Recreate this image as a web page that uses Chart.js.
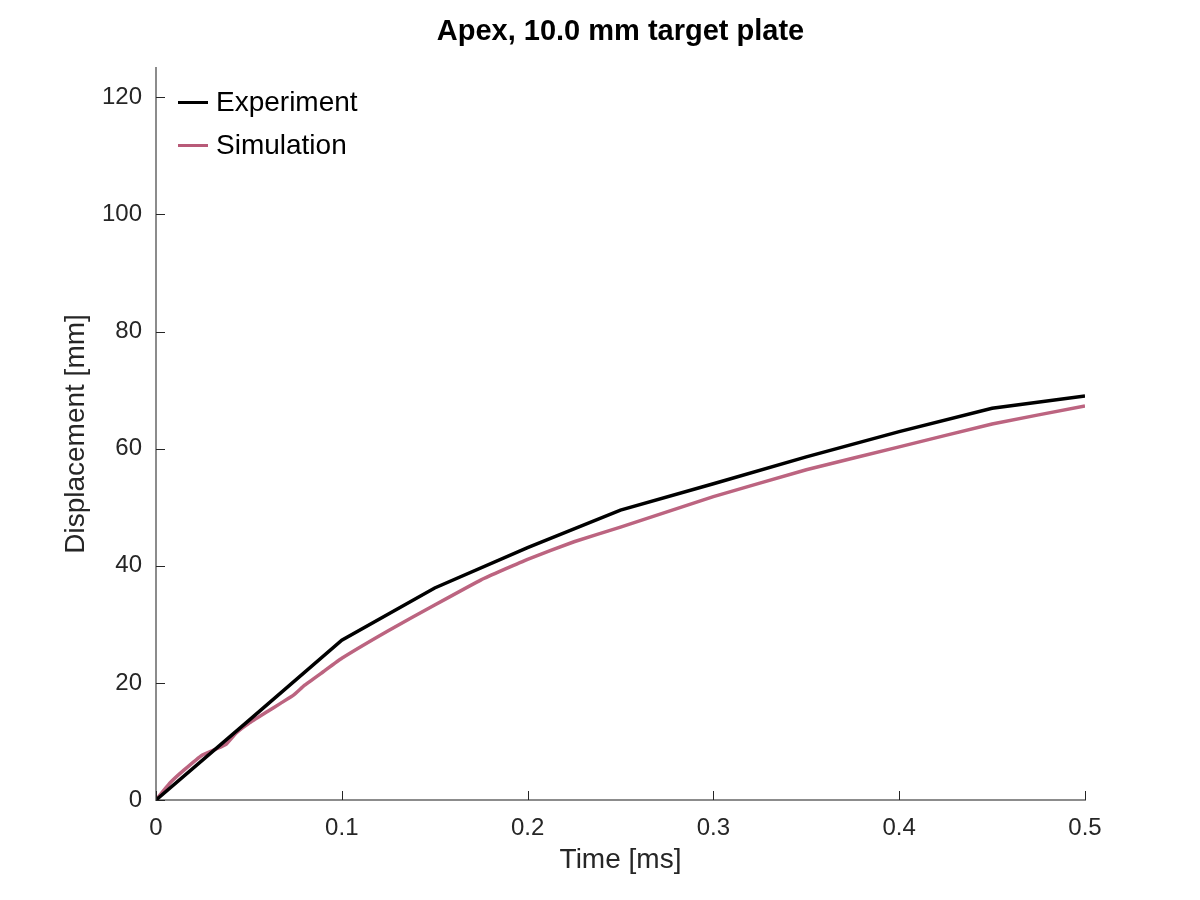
<!DOCTYPE html>
<html lang="en">
<head>
  <meta charset="UTF-8">
  <title>Apex displacement</title>
  <script src="https://cdn.jsdelivr.net/npm/chart.js"></script>
  <style>
    body { margin: 0; background: #fff; }
    #wrap { position: relative; width: 1200px; height: 900px; }
    #ttl { position: absolute; left: 156px; width: 929px; top: 14px; text-align: center;
           font-family: 'Liberation Sans', Arial, sans-serif; font-size: 29px; font-weight: bold; color: #000; }
    .leg { position: absolute; left: 178px; font-family: 'Liberation Sans', Arial, sans-serif; font-size: 28px; color: #000; display: flex; align-items: center; }
    .leg span.ln { display: inline-block; width: 30px; height: 3px; margin-right: 8px; }
  </style>
</head>
<body>
  <div id="wrap">
    <canvas id="plot" width="1200" height="900"></canvas>
    <div id="ttl">Apex, 10.0 mm target plate</div>
    <div class="leg" style="top:86px"><span class="ln" style="background:#000"></span>Experiment</div>
    <div class="leg" style="top:129px"><span class="ln" style="background:#b85a78"></span>Simulation</div>
  </div>

  <script>
    // experiment (sampled every 0.05 ms)
    const expTime = [0, 0.05, 0.1, 0.15, 0.2, 0.25, 0.3, 0.35, 0.4, 0.45, 0.5];
    const expDisp = [0, 13.6, 27.3, 36.2, 43.1, 49.5, 54.0, 58.6, 62.9, 66.9, 69.0];

    // simulation output
    const simTime = [0, 0.0075, 0.015, 0.025, 0.033, 0.038, 0.043, 0.05, 0.06, 0.067, 0.074, 0.08, 0.09, 0.1,
                     0.125, 0.15, 0.175, 0.2, 0.225, 0.25, 0.3, 0.35, 0.4, 0.45, 0.5];
    const simDisp = [0, 2.9, 5.1, 7.7, 8.8, 9.6, 11.4, 13.1, 15.1, 16.5, 17.9, 19.6, 21.9, 24.2,
                     28.9, 33.3, 37.6, 41.1, 44.1, 46.6, 51.8, 56.4, 60.3, 64.2, 67.3];

    const xTicks = [0, 0.1, 0.2, 0.3, 0.4, 0.5];
    const yTicks = [0, 20, 40, 60, 80, 100, 120];

    const FONT = "'Liberation Sans', Arial, sans-serif";
    const TXT = '#262626';

    const toXY = (xs, ys) => xs.map((x, i) => ({ x: x, y: ys[i] }));

    // matlab style inward tick marks
    const inwardTicks = {
      id: 'inwardTicks',
      afterDraw(chart) {
        const c = chart.ctx, xs = chart.scales.x, ys = chart.scales.y;
        const a = chart.chartArea;
        c.save();
        c.strokeStyle = TXT;
        c.lineWidth = 1;
        xTicks.forEach(v => {
          const px = Math.round(xs.getPixelForValue(v)) + 0.5;
          c.beginPath(); c.moveTo(px, a.bottom); c.lineTo(px, a.bottom - 9); c.stroke();
        });
        yTicks.forEach(v => {
          const py = Math.round(ys.getPixelForValue(v)) + 0.5;
          c.beginPath(); c.moveTo(a.left, py); c.lineTo(a.left + 9, py); c.stroke();
        });
        c.restore();
      }
    };

    new Chart(document.getElementById('plot').getContext('2d'), {
      type: 'line',
      data: {
        datasets: [
          {
            label: 'Experiment',
            data: toXY(expTime, expDisp),
            borderColor: '#000',
            borderWidth: 3.5,
            pointRadius: 0,
            tension: 0
          },
          {
            label: 'Simulation',
            data: toXY(simTime, simDisp),
            borderColor: '#bc6480',
            borderWidth: 3.5,
            pointRadius: 0,
            tension: 0.1
          }
        ]
      },
      options: {
        responsive: false,
        animation: false,
        layout: { padding: { left: 0, right: 115, top: 68, bottom: 0 } },
        plugins: {
          legend: { display: false },
          tooltip: { enabled: false }
        },
        scales: {
          x: {
            type: 'linear',
            min: 0, max: 0.5,
            afterBuildTicks: s => { s.ticks = xTicks.map(v => ({ value: v })); },
            afterFit: s => { s.height = 100; },
            grid: { display: false, drawTicks: false },
            border: { display: true, color: '#8c8c8c', width: 2 },
            ticks: {
              color: TXT, padding: 14,
              font: { family: FONT, size: 24 },
              callback: v => String(v)
            },
            title: {
              display: true, text: 'Time [ms]', color: TXT,
              font: { family: FONT, size: 28 },
              padding: { top: 23, bottom: 23 }
            }
          },
          y: {
            type: 'linear',
            min: 0, max: 125,
            afterBuildTicks: s => { s.ticks = yTicks.map(v => ({ value: v })); },
            afterFit: s => { s.width = 156; },
            grid: { display: false, drawTicks: false },
            border: { display: true, color: '#8c8c8c', width: 2 },
            ticks: {
              color: TXT, padding: 14,
              font: { family: FONT, size: 24 }
            },
            title: {
              display: true, text: 'Displacement [mm]', color: TXT,
              font: { family: FONT, size: 28 },
              padding: { top: 59, bottom: 59 }
            }
          }
        }
      },
      plugins: [inwardTicks]
    });
  </script>
</body>
</html>
